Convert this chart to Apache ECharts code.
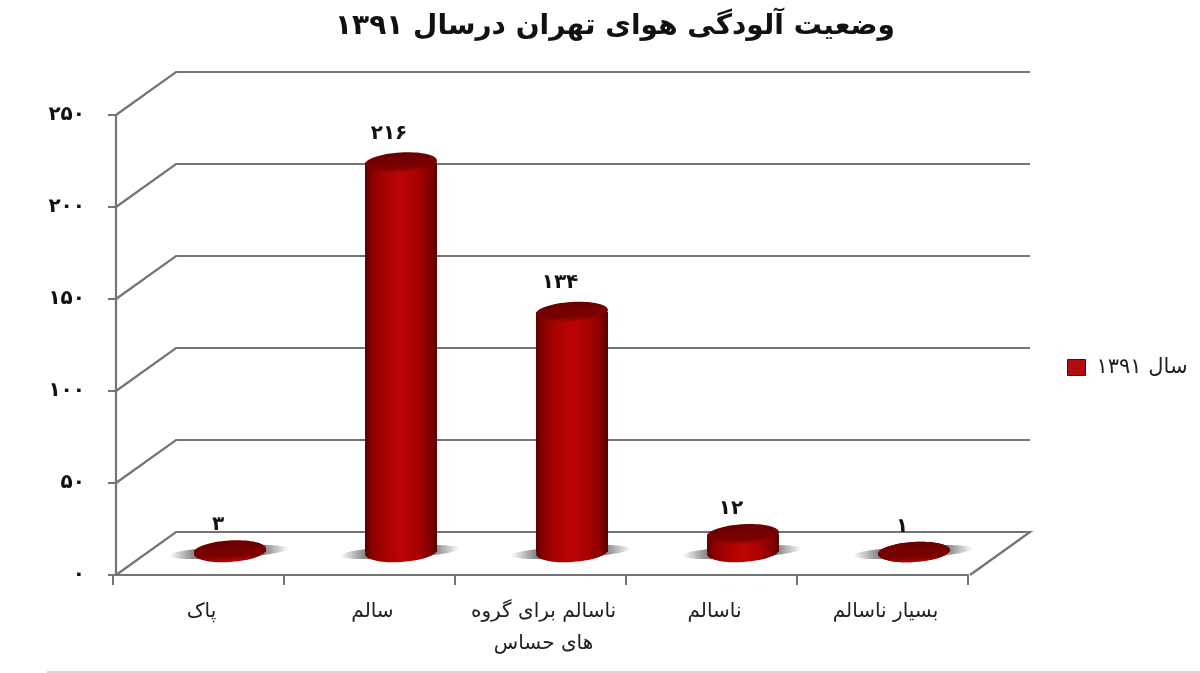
<!DOCTYPE html>
<html>
<head>
<meta charset="utf-8">
<style>html,body{margin:0;padding:0;background:#fff}#c{width:1200px;height:673px}</style>
<script src="https://cdn.jsdelivr.net/npm/echarts@6/dist/echarts.min.js"></script>
</head>
<body>
<div id="c"></div>
<script>
const chartTitle = 'وضعیت آلودگی هوای تهران درسال ۱۳۹۱';
const seriesName = 'سال ۱۳۹۱';
const categories = ['پاک', 'سالم', 'ناسالم برای گروه\nهای حساس', 'ناسالم', 'بسیار ناسالم'];
const values = [3, 216, 134, 12, 1];
const valueLabels = ['۳', '۲۱۶', '۱۳۴', '۱۲', '۱'];
const yTicks = [0, 50, 100, 150, 200, 250];
const yTickLabels = ['۰', '۵۰', '۱۰۰', '۱۵۰', '۲۰۰', '۲۵۰'];

const FONT = '"DejaVu Sans", sans-serif';
const DEPTH_X = 60, DEPTH_Y = 43;

const chart = echarts.init(document.getElementById('c'), null, {renderer: 'canvas'});

const bodyGrad = new echarts.graphic.LinearGradient(0, 0, 1, 0, [
  {offset: 0, color: '#5a0000'},
  {offset: 0.1, color: '#8a0000'},
  {offset: 0.3, color: '#ac0202'},
  {offset: 0.5, color: '#bc0404'},
  {offset: 0.7, color: '#ac0202'},
  {offset: 0.9, color: '#860000'},
  {offset: 1, color: '#5a0000'}
]);
const topGrad = new echarts.graphic.LinearGradient(0, 0, 0, 1, [
  {offset: 0, color: '#6a0000'},
  {offset: 0.75, color: '#7c0000'},
  {offset: 1, color: '#a80808'}
]);
const shadowGrad = new echarts.graphic.LinearGradient(0, 0, 1, 0, [
  {offset: 0, color: 'rgba(100,100,100,0)'},
  {offset: 0.2, color: 'rgba(100,100,100,0.75)'},
  {offset: 0.8, color: 'rgba(100,100,100,0.75)'},
  {offset: 1, color: 'rgba(100,100,100,0)'}
]);

function renderWall(params, api) {
  const cs = params.coordSys;
  const v = api.value(0);
  const y = api.coord([0, v])[1];
  const x0 = cs.x + 3;
  const right = cs.x + cs.width + DEPTH_X + 2;
  const pts = [[x0, y], [x0 + DEPTH_X, y - DEPTH_Y], [right, y - DEPTH_Y]];
  if (v === 0) pts.push([cs.x + cs.width + 2, y]);
  return {
    type: 'polyline',
    shape: {points: pts},
    style: {stroke: '#747474', lineWidth: 2.2, fill: null}
  };
}

function renderCylinder(params, api) {
  const idx = api.value(0);
  const v = api.value(1);
  const c0 = api.coord([idx, 0]);
  const c1 = api.coord([idx, v]);
  const cx = c0[0] + DEPTH_X / 2 + 1.5;
  const baseY = c0[1] - 23;
  const topY = Math.min(baseY, c0[1] - 19 - (c0[1] - c1[1]) * 0.99);
  const rx = 36, ry = 10, tilt = 0.06;
  const kids = [
    {type: 'ellipse', shape: {cx: cx - 1, cy: baseY, rx: 60, ry: 6},
     originX: cx, originY: baseY, rotation: tilt, style: {fill: shadowGrad}}
  ];
  kids.push({type: 'ellipse', shape: {cx: cx, cy: baseY, rx: rx, ry: ry},
    originX: cx, originY: baseY, rotation: tilt, style: {fill: bodyGrad}});
  kids.push({type: 'rect', shape: {x: cx - rx, y: topY, width: rx * 2, height: baseY - topY},
    style: {fill: bodyGrad}});
  kids.push({type: 'ellipse', shape: {cx: cx, cy: topY, rx: rx, ry: ry},
    originX: cx, originY: topY, rotation: tilt, style: {fill: topGrad}});
  kids.push({type: 'text', style: {
    text: valueLabels[idx], x: cx - 12, y: topY - (v > 50 ? 29 : 25.5),
    align: 'center', verticalAlign: 'middle',
    fontFamily: FONT, fontSize: 20, fontWeight: 'bold', fill: '#111'
  }});
  return {type: 'group', children: kids};
}

chart.setOption({
  animation: false,
  backgroundColor: '#fff',
  title: {
    text: chartTitle, left: 610, top: 8, textAlign: 'center',
    textStyle: {fontFamily: FONT, fontSize: 28, fontWeight: 'bold', color: '#111'}
  },
  legend: {
    data: [{name: seriesName, icon: 'rect', itemStyle: {color: '#b00d12', borderColor: '#6a0000', borderWidth: 1}}],
    left: 1062, top: 352, itemWidth: 18, itemHeight: 16, itemGap: 0,
    textStyle: {fontFamily: FONT, fontSize: 21, color: '#222', padding: [0, 0, 0, 6]}
  },
  grid: {left: 113, top: 115, width: 855, height: 460},
  xAxis: {
    type: 'category', data: categories,
    axisLine: {lineStyle: {color: '#747474', width: 2.2}},
    axisTick: {show: true, alignWithLabel: false, length: 10, lineStyle: {color: '#747474', width: 2}},
    axisLabel: {fontFamily: FONT, fontSize: 20, color: '#222', margin: 21, lineHeight: 32, interval: 0, padding: [0, 0, 0, 6]},
    splitLine: {show: false}
  },
  yAxis: {
    type: 'value', min: 0, max: 250, interval: 50, offset: -3,
    axisLine: {show: true, lineStyle: {color: '#747474', width: 2.2}},
    axisTick: {show: true, length: 8, lineStyle: {color: '#747474', width: 2}},
    axisLabel: {
      fontFamily: FONT, fontSize: 20, fontWeight: 'bold', color: '#111', margin: 31,
      formatter: function (val, i) { return yTickLabels[yTicks.indexOf(val)]; }
    },
    splitLine: {show: false}
  },
  series: [
    {
      name: 'walls', type: 'custom', coordinateSystem: 'cartesian2d', clip: false, z: 1, silent: true,
      encode: {y: 0}, data: yTicks.map(function (t) { return [t]; }), renderItem: renderWall
    },
    {
      name: seriesName, type: 'custom', coordinateSystem: 'cartesian2d', clip: false, z: 3,
      itemStyle: {color: '#b00d12'},
      encode: {x: 0, y: 1}, data: values.map(function (v, i) { return [i, v]; }), renderItem: renderCylinder
    }
  ],
  graphic: [{type: 'line', shape: {x1: 47, y1: 672, x2: 1200, y2: 672}, style: {stroke: '#d8d8d8', lineWidth: 2}}]
});
</script>
</body>
</html>
